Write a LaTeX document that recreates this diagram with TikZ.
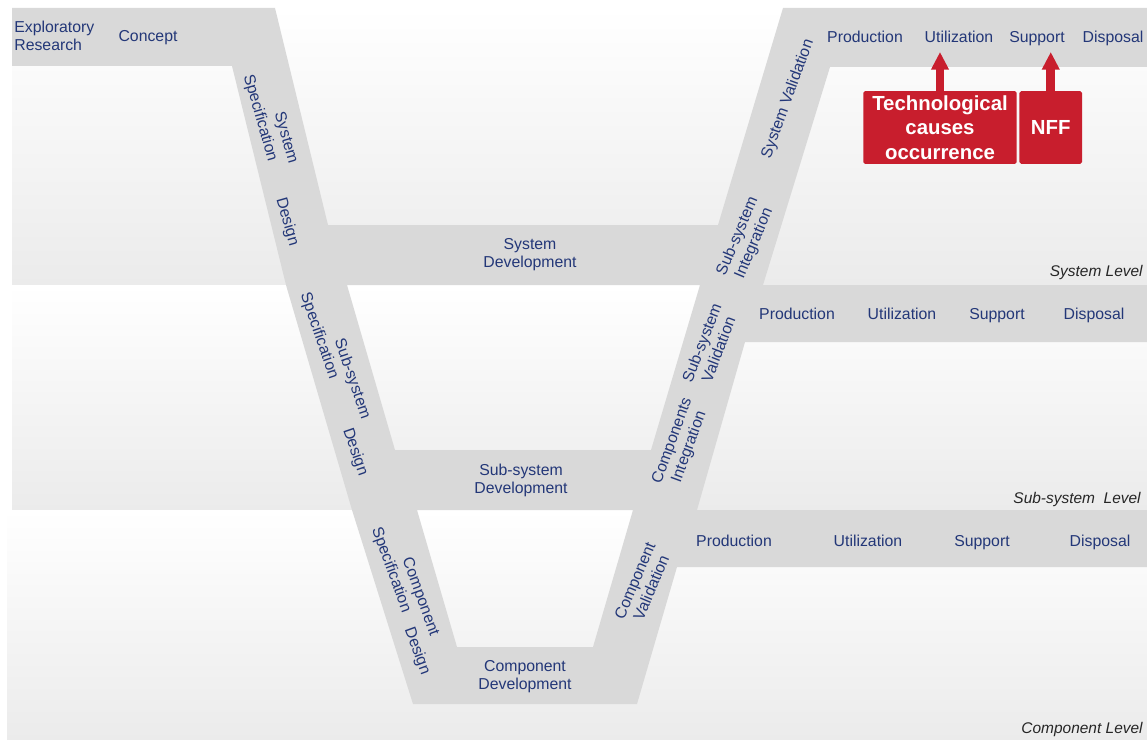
\documentclass[tikz,border=0pt]{standalone}
\usepackage{fontspec}
\setmainfont{Liberation Sans}
\usepackage{tikz}
\usetikzlibrary{arrows.meta,positioning}

\definecolor{vblue}{RGB}{35,55,120}
\definecolor{vgrey}{RGB}{217,217,217}
\definecolor{vband}{RGB}{235,235,235}
\definecolor{vred}{RGB}{200,30,45}

\tikzset{
  lbl/.style={text=vblue, font=\fontsize{9}{10.2}\selectfont, inner sep=0pt, align=center},
  levellbl/.style={text=black!85, font=\fontsize{8.8}{10}\selectfont\itshape, inner sep=0pt, anchor=base east},
  redbox/.style={fill=vred, text=white, font=\fontsize{11.6}{13.9}\selectfont\bfseries, align=center,
    inner sep=0pt, minimum height=41.4pt, rounded corners=1pt},
  redarrow/.style={vred, line width=5.1pt, -{Triangle[width=9.5pt,length=10pt]}}
}

\begin{document}
\begin{tikzpicture}[x=0.02cm, y=-0.02cm]
  \useasboundingbox (0,0) rectangle (1147,740);

  % Background bands for the three levels
  \shade[top color=white, bottom color=vband] (12,8) rectangle (1147,285);
  \shade[top color=white, bottom color=vband] (12,285) rectangle (1147,510);
  \shade[top color=white, bottom color=vband] (7,510) rectangle (1147,740);

  % The V with its branches
  \fill[vgrey, even odd rule]
    (12,8) -- (275,8) -- (328,225) -- (718,225) -- (783,8) -- (1147,8) -- (1147,67)
    -- (830,67) -- (763,285) -- (1147,285) -- (1147,342) -- (745,342) -- (697,510)
    -- (1147,510) -- (1147,567) -- (677,567) -- (637,704) -- (413,704) -- (352,510)
    -- (286,285) -- (232,66) -- (12,66) -- cycle
    (347,285) -- (700,285) -- (651,450) -- (395,450) -- cycle
    (417,510) -- (633,510) -- (593,647) -- (457,647) -- cycle;

  % Life cycle phases on the three branches
  \foreach \name/\x in {Production/865, Utilization/959, Support/1037, Disposal/1113}
    \node[lbl, anchor=base] (sys\name) at (\x,43) {\name};
  \foreach \name/\x in {Production/797, Utilization/902, Support/997, Disposal/1094}
    \node[lbl, anchor=base] (sub\name) at (\x,319) {\name};
  \foreach \name/\x in {Production/734, Utilization/868, Support/982, Disposal/1100}
    \node[lbl, anchor=base] (comp\name) at (\x,546) {\name};

  % Top left
  \node[lbl, anchor=west, align=left] (explore) at (14,35.5) {Exploratory\\Research};
  \node[lbl] (concept) at (148,38) {Concept};

  % Left arm
  \node[lbl, rotate=-74] (sysspec1) at (285.5,138) {System};
  \node[lbl, rotate=-74] (sysspec2) at (260,118) {Specification};
  \node[lbl, rotate=-74] (sysdesign) at (287,222) {Design};
  \node[lbl, rotate=-71] (subspec1) at (352,379) {Sub-system};
  \node[lbl, rotate=-71] (subspec2) at (319,336) {Specification};
  \node[lbl, rotate=-71] (subdesign) at (355,452) {Design};
  \node[lbl, rotate=-70] (compspec1) at (420,597) {Component};
  \node[lbl, rotate=-70] (compspec2) at (391,570) {Specification};
  \node[lbl, rotate=-70] (compdesign) at (417,651) {Design};

  % Bottoms of the Vs
  \node[lbl] (sysdev) at (530,255) {System\\Development};
  \node[lbl] (subdev) at (521,480) {Sub-system\\Development};
  \node[lbl] (compdev) at (525,677) {Component\\Development};

  % Right arm
  \node[lbl, rotate=70] (sysval) at (788,99) {System Validation};
  \node[lbl, rotate=67] (subint) at (746,240) {Sub-system\\Integration};
  \node[lbl, rotate=69] (subval) at (710,346) {Sub-system\\Validation};
  \node[lbl, rotate=70] (compint) at (681,444) {Components\\Integration};
  \node[lbl, rotate=67] (compval) at (643,584) {Component\\Validation};

  % Level names
  \node[levellbl] (syslevel) at (1143,276) {System Level};
  \node[levellbl] (sublevel) at (1141,503) {Sub-system\ \ Level};
  \node[levellbl] (complevel) at (1143,733) {Component Level};

  % Causes and arrows
  \node[redbox, minimum width=87.3pt] (tech) at (940,127.5) {Technological\\causes\\occurrence};
  \node[redbox, minimum width=35.7pt, right=0.04cm of tech] (nff) {NFF};
  \coordinate (techtip) at (940,52);
  \coordinate (nfftip) at (nff.north |- techtip);
  \draw[redarrow] (tech.north) -- (techtip);
  \draw[redarrow] (nff.north) -- (nfftip);
\end{tikzpicture}
\end{document}
